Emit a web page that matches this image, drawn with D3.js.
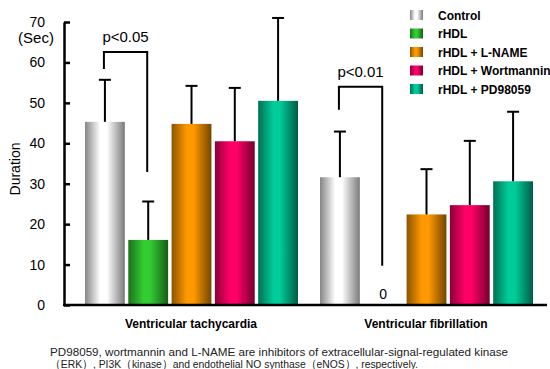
<!DOCTYPE html>
<html>
<head>
<meta charset="utf-8">
<script src="https://cdnjs.cloudflare.com/ajax/libs/d3/7.8.5/d3.min.js"></script>
<style>
  body { margin: 0; background: #fff; }
  text { font-family: "Liberation Sans", Arial, sans-serif; }
</style>
</head>
<body>
<script>
// chart data
var groups = ["Ventricular tachycardia", "Ventricular fibrillation"];
var series = ["Control", "rHDL", "rHDL + L-NAME", "rHDL + Wortmannin", "rHDL + PD98059"];
var vtMeans = [45.3, 16.1, 44.8, 40.5, 50.5];
var vtSD = [10.4, 9.5, 9.4, 13.2, 20.5];
var vfMeans = [31.6, 0, 22.4, 24.7, 30.6];
var vfSD = [11.3, 0, 11.2, 15.9, 17.2];
var yTicks = [0, 10, 20, 30, 40, 50, 60, 70];
var baseColors = ["#ffffff", "#33cc33", "#ff9900", "#ff0066", "#00cc99"];
// significance brackets: group, bar from, bar to, top, left end, right end, label
var brackets = [
  {g: 0, a: 0, b: 1, top: 62.6, left: 58.4, right: 32.9, label: "p<0.05"},
  {g: 1, a: 0, b: 1, top: 54.0, left: 48.3, right: 9.7, label: "p<0.01"}
];
var footnote = [
  "PD98059, wortmannin and L-NAME are inhibitors of extracellular-signal-regulated kinase",
  "（ERK）, PI3K（kinase）and endothelial NO synthase（eNOS）, respectively."
];
var footnoteWidths = [458, 368];

var width = 550, height = 369;
var svg = d3.select("body").append("svg")
    .attr("width", width)
    .attr("height", height);

var defs = svg.append("defs");
baseColors.forEach(function(c, i) {
  var grad = defs.append("linearGradient")
      .attr("id", "g" + i)
      .attr("x1", "0%").attr("x2", "100%")
      .attr("y1", "0%").attr("y2", "0%");
  var edgeL, mid, edgeR;
  if (i == 0) {
    edgeL = "#858585"; mid = "#ffffff"; edgeR = "#7a7a7a";
  } else {
    edgeL = d3.interpolateRgb(c, "#000")(0.45);
    mid = c;
    edgeR = d3.interpolateRgb(c, "#000")(0.55);
  }
  grad.append("stop").attr("offset", "0%").attr("stop-color", edgeL);
  grad.append("stop").attr("offset", "38%").attr("stop-color", mid);
  grad.append("stop").attr("offset", "55%").attr("stop-color", mid);
  grad.append("stop").attr("offset", "100%").attr("stop-color", edgeR);
});

var y = d3.scaleLinear().domain([0, 70]).range([305, 22]);
var x0 = d3.scaleBand().domain(groups).range([74, 544]);
var x1 = d3.scaleBand().domain(series).range([11, 224]).paddingInner(0.08);

var rows = [];
groups.forEach(function(g, gi) {
  var means = gi == 0 ? vtMeans : vfMeans;
  var sds = gi == 0 ? vtSD : vfSD;
  series.forEach(function(s, si) {
    rows.push({group: g, series: s, si: si, mean: means[si], sd: sds[si]});
  });
});

// bars
svg.append("g").selectAll("rect")
  .data(rows)
  .enter()
  .append("rect")
  .attr("x", function(d) { return x0(d.group) + x1(d.series); })
  .attr("y", function(d) { return y(d.mean); })
  .attr("width", x1.bandwidth())
  .attr("height", function(d) { return y(0) - y(d.mean); })
  .attr("fill", function(d) { return "url(#g" + d.si + ")"; });

// error bars
var errs = svg.append("g").selectAll("g")
  .data(rows.filter(function(d) { return d.sd > 0; }))
  .enter()
  .append("g")
  .attr("stroke", "#000")
  .attr("stroke-width", 2);
errs.append("line")
  .attr("x1", function(d) { return x0(d.group) + x1(d.series) + x1.bandwidth() / 2; })
  .attr("x2", function(d) { return x0(d.group) + x1(d.series) + x1.bandwidth() / 2; })
  .attr("y1", function(d) { return y(d.mean); })
  .attr("y2", function(d) { return y(d.mean + d.sd); });
errs.append("line")
  .attr("x1", function(d) { return x0(d.group) + x1(d.series) + x1.bandwidth() / 2 - 6; })
  .attr("x2", function(d) { return x0(d.group) + x1(d.series) + x1.bandwidth() / 2 + 6; })
  .attr("y1", function(d) { return y(d.mean + d.sd); })
  .attr("y2", function(d) { return y(d.mean + d.sd); });

// zero label for rHDL VF
svg.append("text")
  .attr("x", x0(groups[1]) + x1(series[1]) + x1.bandwidth() / 2)
  .attr("y", y(1.5))
  .attr("text-anchor", "middle")
  .attr("font-size", 14)
  .text("0");

// brackets
var bx = function(g, s) { return x0(groups[g]) + x1(series[s]) + x1.bandwidth() / 2 - 1; };
brackets.forEach(function(b) {
  var xl = bx(b.g, b.a), xr = bx(b.g, b.b);
  svg.append("path")
    .attr("d", "M" + xl + "," + y(b.left) + "V" + y(b.top) + "H" + xr + "V" + y(b.right))
    .attr("fill", "none")
    .attr("stroke", "#000")
    .attr("stroke-width", 2);
  svg.append("text")
    .attr("x", (xl + xr) / 2)
    .attr("y", y(b.top) - 10)
    .attr("text-anchor", "middle")
    .attr("font-size", 15)
    .text(b.label);
});

// y axis
var yAxis = svg.append("g")
  .attr("transform", "translate(64,0)")
  .call(d3.axisLeft(y).tickValues(yTicks).tickSize(-6).tickSizeOuter(0).tickPadding(19));
yAxis.select(".domain").attr("stroke-width", 2.5);
yAxis.selectAll(".tick line").attr("stroke-width", 2.5);
yAxis.selectAll(".tick text")
  .attr("font-size", 14)
  .attr("font-family", "Liberation Sans, Arial, sans-serif")
  .attr("fill", "#000");

// x axis line
svg.append("line")
  .attr("x1", 63).attr("x2", 547)
  .attr("y1", y(0)).attr("y2", y(0))
  .attr("stroke", "#000")
  .attr("stroke-width", 2.5);

svg.append("text")
  .attr("x", 36).attr("y", 43)
  .attr("text-anchor", "middle")
  .attr("font-size", 15)
  .text("(Sec)");

svg.append("text")
  .attr("transform", "translate(20,169) rotate(-90)")
  .attr("text-anchor", "middle")
  .attr("font-size", 14)
  .text("Duration");

// group labels
svg.append("g").selectAll("text")
  .data(groups)
  .enter()
  .append("text")
  .attr("x", function(d) { return x0(d) + 11 + 106; })
  .attr("y", 328)
  .attr("text-anchor", "middle")
  .attr("font-size", 12)
  .attr("font-weight", "bold")
  .text(function(d) { return d; });

// legend
var legend = svg.append("g").selectAll("g")
  .data(series)
  .enter()
  .append("g")
  .attr("transform", function(d, i) { return "translate(410," + (15 + i * 18.5) + ")"; });
legend.append("rect")
  .attr("x", 0).attr("y", -5)
  .attr("width", 13).attr("height", 10)
  .attr("fill", function(d, i) { return "url(#g" + i + ")"; });
legend.append("text")
  .attr("x", 28).attr("y", 4.5)
  .attr("font-size", 12)
  .attr("font-weight", "bold")
  .text(function(d) { return d; });

// footnote
svg.append("g").selectAll("text")
  .data(footnote)
  .enter()
  .append("text")
  .attr("x", 50)
  .attr("y", function(d, i) { return 356 + i * 12; })
  .attr("font-size", 11.5)
  .attr("fill", "#222")
  .attr("textLength", function(d, i) { return footnoteWidths[i]; })
  .attr("lengthAdjust", "spacingAndGlyphs")
  .text(function(d) { return d; });
</script>
</body>
</html>
